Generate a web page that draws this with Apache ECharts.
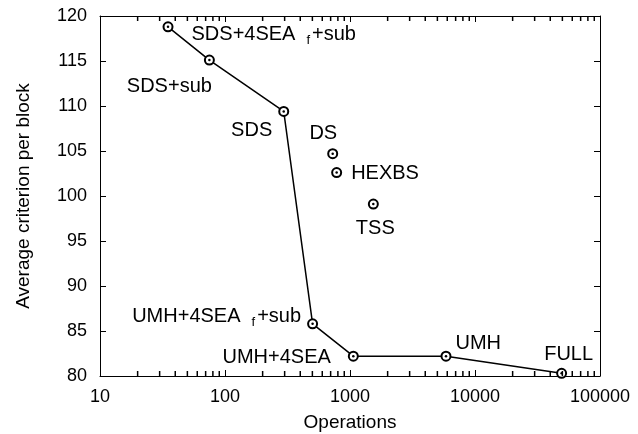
<!DOCTYPE html>
<html>
<head>
<meta charset="utf-8">
<script src="https://cdn.jsdelivr.net/npm/echarts@6/dist/echarts.min.js"></script>
<style>
  html, body { margin: 0; padding: 0; background: #fff; }
  #chart { width: 638px; height: 434px; }
</style>
</head>
<body>
<div id="chart"></div>
<script>
// points joined by the line
const lineNames = ['SDS+4SEA_f+sub', 'SDS+sub', 'SDS', 'UMH+4SEA_f+sub', 'UMH+4SEA', 'UMH', 'FULL'];
const lineOps = [35, 75, 295, 502, 1063, 5860, 49300];
const lineCrit = [118.8, 115.1, 109.4, 85.8, 82.2, 82.2, 80.3];
// separate points
const otherNames = ['DS', 'HEXBS', 'TSS'];
const otherOps = [727, 782, 1537];
const otherCrit = [104.7, 102.6, 99.1];
// axes
const xTickLabels = [10, 100, 1000, 10000, 100000];
const yTickLabels = [80, 85, 90, 95, 100, 105, 110, 115, 120];

// label placement: side of the point, offset x, offset y
const labelPlace = {
    'SDS+4SEA_f+sub': ['right', 18, 8],
    'SDS+sub': ['left', 8, 26],
    'SDS': ['left', -6, 19],
    'DS': ['left', 10, -20],
    'HEXBS': ['right', 9, 1],
    'TSS': ['right', -23, 24],
    'UMH+4SEA_f+sub': ['left', -6, -7],
    'UMH+4SEA': ['left', -17, 1],
    'UMH': ['right', 4, -13],
    'FULL': ['left', 37, -19]
};

const FONT = 'Liberation Sans, Arial, sans-serif';
const yMin = yTickLabels[0];
const yMax = yTickLabels[yTickLabels.length - 1];

// minor ticks 2..9 in every decade
const minorTicks = [];
for (let i = 0; i < xTickLabels.length - 1; i++) {
    for (let k = 2; k <= 9; k++) {
        minorTicks.push(xTickLabels[i] * k);
    }
}

function labelText(name) {
    return name.replace('_f', '{s|f}');
}

function makeItems(names, xs, ys) {
    return names.map(function (n, i) {
        const p = labelPlace[n];
        return {
            name: n,
            value: [xs[i], ys[i]],
            label: {
                show: true,
                position: p[0],
                distance: 0,
                offset: [p[1], p[2]],
                formatter: labelText(n),
                color: '#000',
                fontSize: 20,
                fontFamily: FONT,
                rich: {
                    s: { fontSize: 13, fontFamily: FONT, color: '#000', padding: [12, 2, 0, 11] }
                }
            }
        };
    });
}

const chart = echarts.init(document.getElementById('chart'), null, { renderer: 'canvas' });

function logAxis(pos, withLabels) {
    return {
        type: 'log',
        logBase: 10,
        min: xTickLabels[0],
        max: xTickLabels[xTickLabels.length - 1],
        position: pos,
        axisLine: { show: true, onZero: false, lineStyle: { color: '#000', width: 1 } },
        axisTick: { show: true, inside: true, length: 6, lineStyle: { color: '#000', width: 1 } },
        axisLabel: {
            show: withLabels,
            margin: 12,
            color: '#000',
            fontSize: 18,
            fontFamily: FONT,
            formatter: function (v) { return String(Math.round(v)); }
        },
        splitLine: { show: false },
        name: withLabels ? 'Operations' : '',
        nameLocation: 'middle',
        nameGap: 37,
        nameTextStyle: { color: '#000', fontSize: 19, fontFamily: FONT }
    };
}

function yAxis(pos, withLabels) {
    return {
        type: 'value',
        min: yMin,
        max: yMax,
        interval: 5,
        position: pos,
        axisLine: { show: true, onZero: false, lineStyle: { color: '#000', width: 1 } },
        axisTick: { show: true, inside: true, length: 6, lineStyle: { color: '#000', width: 1 } },
        axisLabel: { show: withLabels, margin: 13, color: '#000', fontSize: 18, fontFamily: FONT },
        splitLine: { show: false },
        name: withLabels ? 'Average criterion per block' : '',
        nameLocation: 'middle',
        nameGap: 67,
        nameTextStyle: { color: '#000', fontSize: 19, fontFamily: FONT }
    };
}

// short minor ticks on the bottom and top edges of the box
function minorTickSeries(yValue, shift) {
    return {
        type: 'scatter',
        xAxisIndex: 0,
        yAxisIndex: 0,
        data: minorTicks.map(function (v) { return [v, yValue]; }),
        symbol: 'rect',
        symbolSize: [1.5, 5],
        symbolOffset: [0, shift],
        itemStyle: { color: '#000', opacity: 1 },
        clip: false,
        silent: true,
        z: 5
    };
}

const allOps = lineOps.concat(otherOps);
const allCrit = lineCrit.concat(otherCrit);

const option = {
    animation: false,
    backgroundColor: '#fff',
    grid: { left: 100, right: 38, top: 16, bottom: 58, containLabel: false, outerBoundsMode: 'none' },
    xAxis: [logAxis('bottom', true), logAxis('top', false)],
    yAxis: [yAxis('left', true), yAxis('right', false)],
    series: [
        minorTickSeries(yMin, -2.5),
        minorTickSeries(yMax, 2.5),
        {
            type: 'line',
            xAxisIndex: 0,
            yAxisIndex: 0,
            data: makeItems(lineNames, lineOps, lineCrit),
            symbol: 'emptyCircle',
            symbolSize: 9,
            showAllSymbol: true,
            itemStyle: { color: '#000', borderWidth: 2, opacity: 1 },
            lineStyle: { color: '#000', width: 1.5 },
            z: 2
        },
        {
            type: 'scatter',
            xAxisIndex: 0,
            yAxisIndex: 0,
            data: makeItems(otherNames, otherOps, otherCrit),
            symbol: 'emptyCircle',
            symbolSize: 9,
            itemStyle: { color: '#000', borderWidth: 2, opacity: 1 },
            z: 2
        },
        {
            type: 'scatter',
            xAxisIndex: 0,
            yAxisIndex: 0,
            data: allOps.map(function (x, i) { return [x, allCrit[i]]; }),
            symbol: 'circle',
            symbolSize: 2.5,
            itemStyle: { color: '#000', opacity: 1 },
            silent: true,
            z: 4
        }
    ]
};

chart.setOption(option);
</script>
</body>
</html>
